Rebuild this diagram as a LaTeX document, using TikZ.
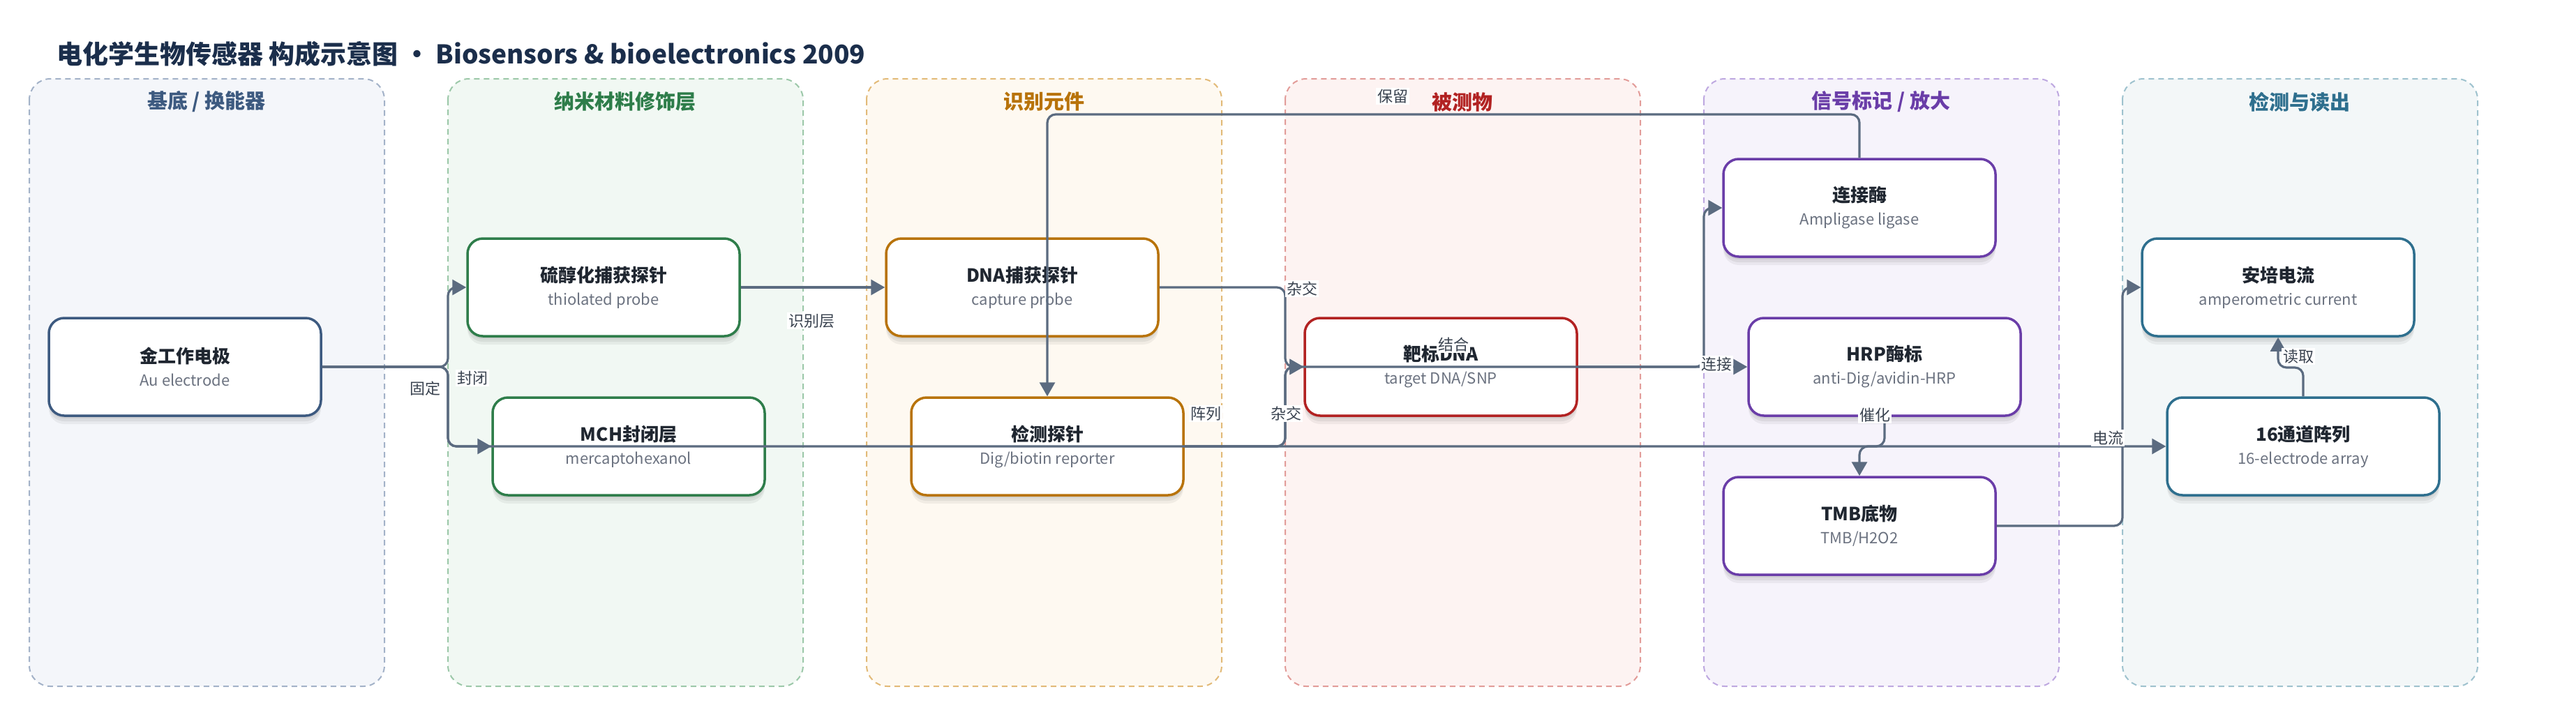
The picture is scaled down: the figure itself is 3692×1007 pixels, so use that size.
\documentclass[tikz,border=0pt]{standalone}
\usepackage{fontspec}
\setmainfont{Noto Sans CJK SC}
\usetikzlibrary{arrows.meta,shadows}
\definecolor{titlec}{HTML}{1B2E4B}
\definecolor{txtc}{HTML}{1F2630}
\definecolor{subc}{HTML}{6B7280}
\definecolor{edgec}{HTML}{5B6B80}
\definecolor{lblc}{HTML}{3A4350}
\definecolor{fA}{HTML}{F4F6FA}\definecolor{dA}{HTML}{A3B2C8}\definecolor{cA}{HTML}{3D5A80}
\definecolor{fB}{HTML}{F1F8F3}\definecolor{dB}{HTML}{9CC8A9}\definecolor{cB}{HTML}{2E7D4A}
\definecolor{fC}{HTML}{FEF9F1}\definecolor{dC}{HTML}{E2BA78}\definecolor{cC}{HTML}{B8730A}
\definecolor{fD}{HTML}{FDF3F2}\definecolor{dD}{HTML}{E29C99}\definecolor{cD}{HTML}{B22222}
\definecolor{fE}{HTML}{F6F3FB}\definecolor{dE}{HTML}{BEA8E0}\definecolor{cE}{HTML}{6A3DA8}
\definecolor{fF}{HTML}{F3F7F8}\definecolor{dF}{HTML}{9EC2CE}\definecolor{cF}{HTML}{2E6F8E}
\tikzset{
  lane/.style 2 args={fill=#1, draw=#2, line width=1pt, dash pattern=on 4pt off 3pt, rounded corners=15pt},
  lanetitle/.style={font=\fontsize{14.5}{17}\selectfont\bfseries, text=#1},
  box/.style={draw=#1, fill=white, line width=1.75pt, rounded corners=11pt,
    minimum width=195pt, minimum height=70pt, align=center, text=subc,
    font=\fontsize{11}{16.5}\selectfont,
    general shadow={fill=black, opacity=0.06, shadow yshift=-2pt},
    general shadow={fill=black, opacity=0.06, shadow yshift=-4pt},
    general shadow={fill=black, opacity=0.05, shadow yshift=-6pt}},
  edge/.style={draw=edgec, line width=1.6pt, rounded corners=6pt, -{Triangle[length=10pt,width=11pt]}},
  lbl/.style={fill=white, inner sep=1pt, text=lblc, font=\fontsize{11}{13}\selectfont}
}
\newcommand{\nt}[1]{{\fontsize{13}{16.5}\selectfont\bfseries\color{txtc}#1}}
\begin{document}
\begin{tikzpicture}[x=0.5pt,y=-0.5pt]
\useasboundingbox (0,0) rectangle (3692,1007);
% lanes
\draw[lane={fA}{dA}] (42,113) rectangle (551,984);
\draw[lane={fB}{dB}] (642,113) rectangle (1151,984);
\draw[lane={fC}{dC}] (1242,113) rectangle (1751,984);
\draw[lane={fD}{dD}] (1842,113) rectangle (2351,984);
\draw[lane={fE}{dE}] (2442,113) rectangle (2951,984);
\draw[lane={fF}{dF}] (3042,113) rectangle (3551,984);
% title
\node[anchor=west, font=\fontsize{18.5}{22}\selectfont\bfseries, text=titlec] (title) at (74,77) {电化学生物传感器 构成示意图 • Biosensors \& bioelectronics 2009};
% lane titles
\node[lanetitle=cA] (tA) at (296,146) {基底 / 换能器};
\node[lanetitle=cB] (tB) at (896,146) {纳米材料修饰层};
\node[lanetitle=cC] (tC) at (1496,146) {识别元件};
\node[lanetitle=cD] (tD) at (2096,146) {被测物};
\node[lanetitle=cE] (tE) at (2696,146) {信号标记 / 放大};
\node[lanetitle=cF] (tF) at (3296,146) {检测与读出};
% nodes
\node[box=cA] (au) at (265,526) {\nt{金工作电极}\\Au electrode};
\node[box=cB] (thiol) at (865,412) {\nt{硫醇化捕获探针}\\thiolated probe};
\node[box=cB] (mch) at (901,640) {\nt{MCH封闭层}\\mercaptohexanol};
\node[box=cC] (cap) at (1465,412) {\nt{DNA捕获探针}\\capture probe};
\node[box=cC] (det) at (1501,640) {\nt{检测探针}\\Dig/biotin reporter};
\node[box=cD] (target) at (2065,526) {\nt{靶标DNA}\\target DNA/SNP};
\node[box=cE] (lig) at (2665,298) {\nt{连接酶}\\Ampligase ligase};
\node[box=cE] (hrp) at (2701,526) {\nt{HRP酶标}\\anti-Dig/avidin-HRP};
\node[box=cE] (tmb) at (2665,754) {\nt{TMB底物}\\TMB/H2O2};
\node[box=cF] (amp) at (3265,412) {\nt{安培电流}\\amperometric current};
\node[box=cF] (arr) at (3301,640) {\nt{16通道阵列}\\16-electrode array};
% edges
\draw[edge] (au.east) -- (642,526) |- (thiol.west);
\draw[edge] (au.east) -- (642,526) |- (mch.west);
\draw[edge] (au.east) -- (642,526) |- (arr.west);
\draw[edge] (thiol.east) -- (cap.west);
\draw[edge] (cap.east) -- (1842,412) |- (target.west);
\draw[edge] (det.east) -- (1842,640) |- (target.west);
\draw[edge] (det.east) -- (1842,640) |- (hrp.west);
\draw[edge] (target.east) -- (2442,526) |- (lig.west);
\draw[edge] (lig.north) -- (2665,164) -| (det.north);
\draw[edge] (hrp.south) -- (2701,640) -| (tmb.north);
\draw[edge] (tmb.east) -- (3042,754) |- (amp.west);
\draw[edge] (arr.north) -- (3301,527) -| (amp.south);
% labels
\node[lbl] (l1) at (609,557) {固定};
\node[lbl] (l2) at (677,542) {封闭};
\node[lbl] (l3) at (1728,593) {阵列};
\node[lbl] (l4) at (1163,460) {识别层};
\node[lbl] (l5) at (1866,414) {杂交};
\node[lbl] (l6) at (1843,593) {杂交};
\node[lbl] (l7) at (2083,494) {结合};
\node[lbl] (l8) at (2460,522) {连接};
\node[lbl] (l9) at (1996,138) {保留};
\node[lbl] (l10) at (2687,595) {催化};
\node[lbl] (l11) at (3021,628) {电流};
\node[lbl] (l12) at (3294,511) {读取};
\end{tikzpicture}
\end{document}
